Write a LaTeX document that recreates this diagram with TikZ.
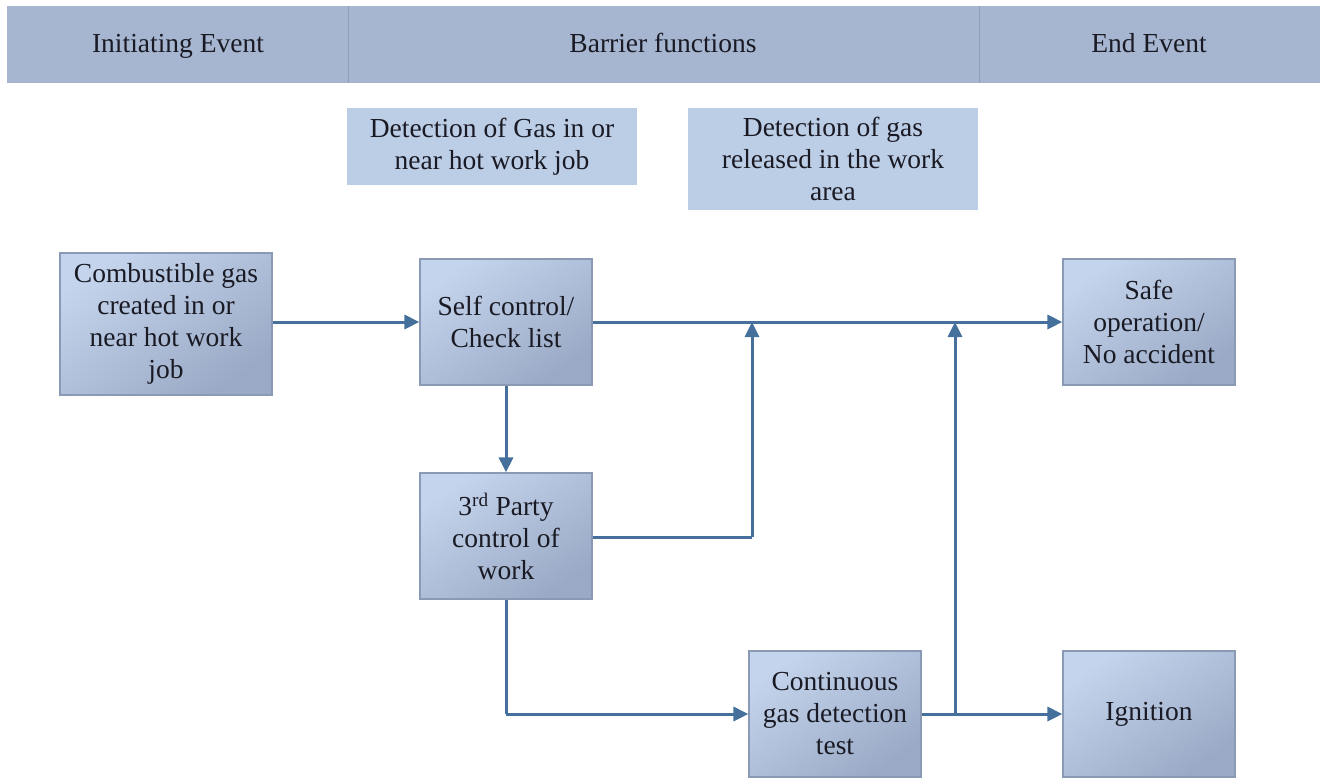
\documentclass[tikz,border=0pt]{standalone}
\usepackage{fontspec}
\setmainfont{Liberation Serif}
\usetikzlibrary{arrows.meta}
\definecolor{hdrfill}{HTML}{A6B6D0}
\definecolor{hdrline}{HTML}{8E9EB8}
\definecolor{lblfill}{HTML}{BCCDE6}
\definecolor{boxhi}{HTML}{C4D4EC}
\definecolor{boxlo}{HTML}{9AAAC6}
\definecolor{boxline}{HTML}{8A9AB4}
\definecolor{flow}{HTML}{44709B}
\definecolor{ink}{HTML}{1A1A24}
\tikzset{
  txt/.style={font=\fontsize{27.5}{32}\selectfont, text=ink, align=center, inner sep=0pt},
  hdrtxt/.style={txt, text height=19pt, text depth=6pt},
  stepbox/.style={txt, draw=boxline, line width=1.2pt,
    top color=boxhi, bottom color=boxlo, shading angle=35,
    minimum width=172pt, minimum height=126pt},
  lbl/.style={txt, fill=lblfill, minimum width=290pt},
  flowline/.style={draw=flow, line width=3pt},
  flowarrow/.style={flowline, -{Triangle[length=15pt,width=14pt]}},
}
\begin{document}
\begin{tikzpicture}[x=1pt,y=-1pt]
\useasboundingbox (0,0) rectangle (1321,778);

% header band with three columns
\fill[hdrfill] (7,6) rectangle (1320,83);
\draw[hdrline, line width=1pt] (348,6) -- (348,83) (979,6) -- (979,83);
\node[hdrtxt] (hIni) at (178,46) {Initiating Event};
\node[hdrtxt] (hBar) at (663,46) {Barrier functions};
\node[hdrtxt] (hEnd) at (1149,46) {End Event};

% barrier function labels
\node[lbl, minimum height=77pt] (d1) at (492,146.5) {Detection of Gas in or\\near hot work job};
\node[lbl, minimum height=102pt] (d2) at (833,159) {Detection of gas\\released in the work\\area};

% event and barrier boxes
\node[stepbox, minimum width=212pt, minimum height=142pt] (gas) at (166,324)
  {Combustible gas\\created in or\\near hot work\\job};
\node[stepbox] (self) at (506,322) {Self control/\\Check list};
\node[stepbox] (safe) at (1149,322) {Safe\\operation/\\No accident};
\node[stepbox] (third) at (506,536) {3\textsuperscript{rd} Party\\control of\\work};
\node[stepbox] (cont) at (835,714) {Continuous\\gas detection\\test};
\node[stepbox] (ign) at (1149,714) {Ignition};

% junction points on the success line
\coordinate (j1) at (752,322);
\coordinate (j2) at (955,322);
\coordinate (k1) at (752,537);
\coordinate (k2) at (955,714);
\coordinate (b1) at (506,714);

% connectors
\draw[flowarrow] (gas.east |- self.west) -- (self.west);
\draw[flowarrow] (self.east) -- (safe.west);
\draw[flowarrow] (self.south) -- (third.north);
\draw[flowline] (third.east |- k1) -- (k1);
\draw[flowarrow] (k1) -- (j1);
\draw[flowline] (third.south) -- (b1);
\draw[flowarrow] (b1) -- (cont.west);
\draw[flowarrow] (cont.east) -- (ign.west);
\draw[flowarrow] (k2) -- (j2);
\end{tikzpicture}
\end{document}
